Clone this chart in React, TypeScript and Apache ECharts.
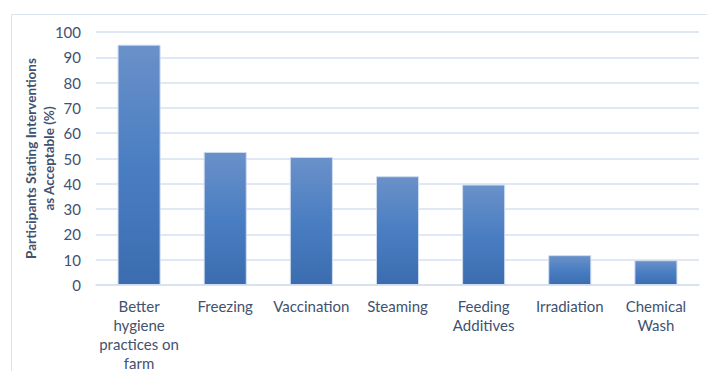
import React, { useEffect, useRef } from "react";
import * as echarts from "echarts";

const categories = [
  "Better\nhygiene\npractices on\nfarm",
  "Freezing",
  "Vaccination",
  "Steaming",
  "Feeding\nAdditives",
  "Irradiation",
  "Chemical\nWash",
];
const acceptablePct = [95, 52.6, 50.6, 43, 39.7, 11.8, 9.8];
const yTicks = { min: 0, max: 100, interval: 10 };
const yTitle = "Participants Stating Interventions\nas Acceptable (%)";

const TEXT = "#3f5271";
const GRID = "#d5e1f1";

export default function App() {
  const ref = useRef<HTMLDivElement>(null);

  useEffect(() => {
    if (!ref.current) return;
    const chart = echarts.init(ref.current, undefined, { renderer: "svg" });
    chart.setOption({
      animation: false,
      backgroundColor: "#ffffff",
      textStyle: { fontFamily: "Lato" },
      grid: { left: 96, right: 8, top: 32, bottom: 86, outerBoundsMode: "none" },
      graphic: [
        {
          type: "rect",
          shape: { x: 11.5, y: 14.5, width: 800, height: 500 },
          style: { fill: "none", stroke: "#dae4f1", lineWidth: 1 },
          silent: true,
          z: -1,
        },
      ],
      xAxis: {
        type: "category",
        data: categories,
        axisLine: { lineStyle: { color: GRID, width: 1.5 } },
        axisTick: { show: false },
        axisLabel: {
          color: TEXT,
          fontSize: 15,
          lineHeight: 19,
          margin: 11,
          interval: 0,
          fontFamily: "Lato",
        },
      },
      yAxis: {
        type: "value",
        min: yTicks.min,
        max: yTicks.max,
        interval: yTicks.interval,
        name: yTitle,
        nameLocation: "middle",
        nameRotate: 90,
        nameGap: 38,
        nameMoveOverlap: false,
        nameTextStyle: {
          color: TEXT,
          fontSize: 13.5,
          fontWeight: "bold",
          lineHeight: 18,
          fontFamily: "Lato",
        },
        axisLine: { show: false },
        axisTick: { show: false },
        axisLabel: { color: TEXT, fontSize: 15, margin: 15, fontFamily: "Lato" },
        splitLine: { lineStyle: { color: GRID, width: 1.5 } },
      },
      series: [
        {
          type: "bar",
          data: acceptablePct,
          barWidth: "50%",
          itemStyle: {
            borderColor: "#cfdcef",
            borderWidth: 1,
            color: new echarts.graphic.LinearGradient(0, 0, 0, 1, [
              { offset: 0, color: "#6a91c9" },
              { offset: 0.5, color: "#4a7ec2" },
              { offset: 1, color: "#3b6cb0" },
            ]),
          },
        },
      ],
    });
    return () => chart.dispose();
  }, []);

  return (
    <div
      ref={ref}
      style={{ position: "absolute", left: 0, top: 0, width: 707, height: 371 }}
    />
  );
}
